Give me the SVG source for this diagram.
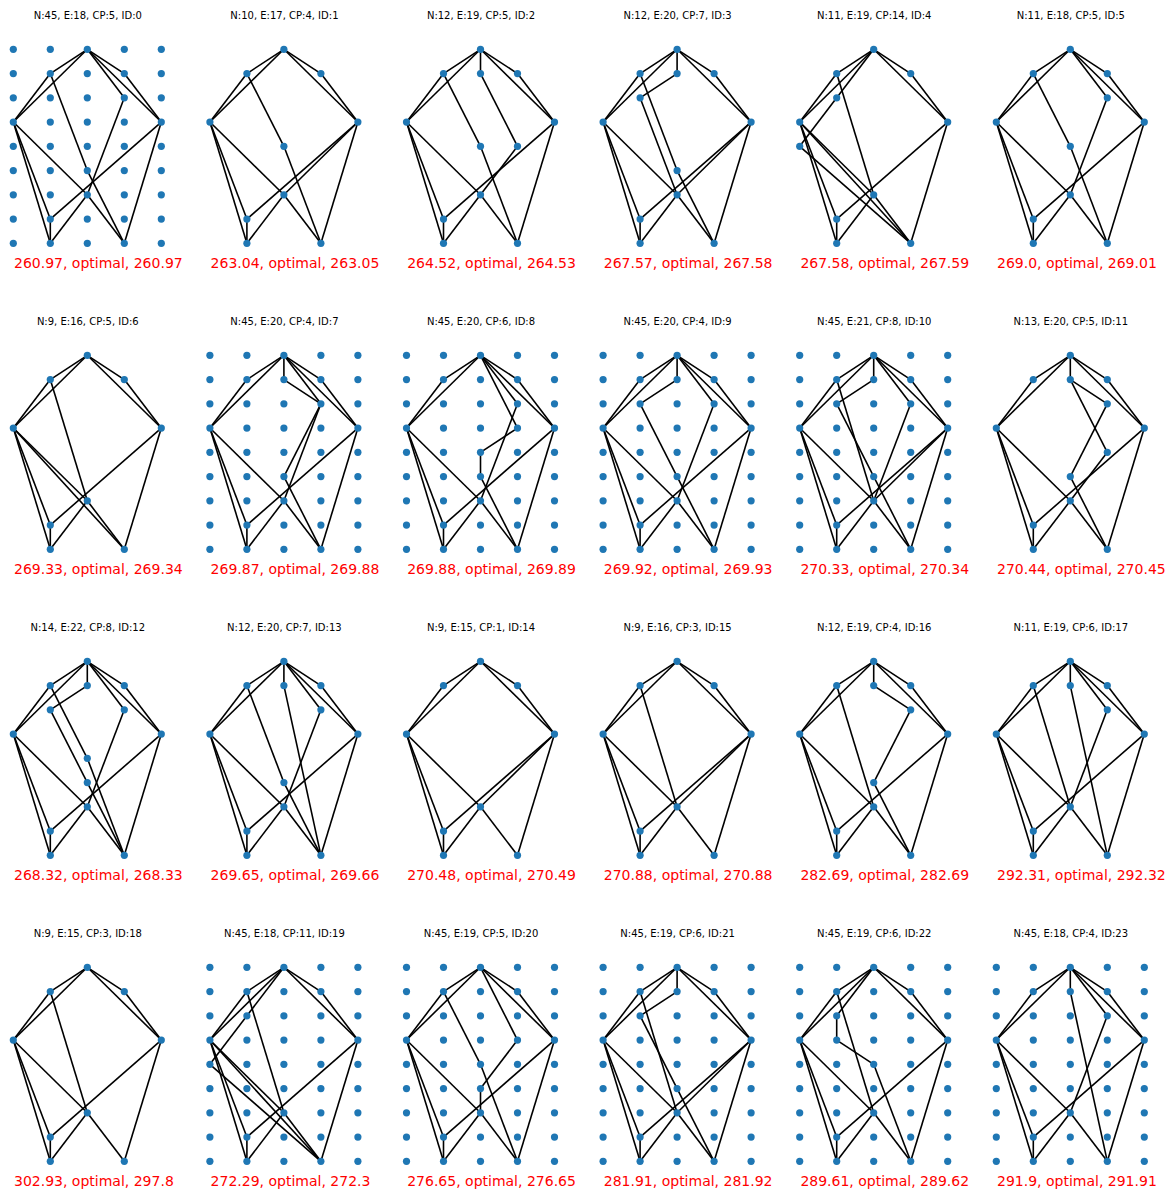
<svg xmlns="http://www.w3.org/2000/svg" width="1172" height="1191" viewBox="0 0 1172 1191">
<style>
.e path{fill:none;stroke:#000;stroke-width:1.6}
.n circle{fill:#1f77b4}
.t{font-family:"DejaVu Sans",sans-serif;font-size:10px;text-anchor:middle;fill:#000}
.s{font-family:"DejaVu Sans",sans-serif;font-size:14px;fill:#ff0000}
</style>
<rect width="1172" height="1191" fill="#fff"/>

<g id="panel0" transform="translate(13.3,49.3)">
<text class="t" x="74.5" y="-30.5">N:45, E:18, CP:5, ID:0</text>
<g id="p0-edges" class="e">
<path d="M74 0L37 24.25"/><path d="M74 0L0 72.75"/><path d="M74 0L111 24.25"/><path d="M74 0L148 72.75"/><path d="M37 24.25L0 72.75"/><path d="M111 24.25L148 72.75"/><path d="M0 72.75L74 145.5"/><path d="M0 72.75L37 169.75"/><path d="M0 72.75L37 194"/><path d="M148 72.75L37 169.75"/><path d="M148 72.75L111 194"/><path d="M74 145.5L37 194"/><path d="M74 145.5L111 194"/><path d="M37 169.75L37 194"/>
<path d="M74 0L111 48.5"/><path d="M111 48.5L74 145.5"/><path d="M37 24.25L74 121.25"/><path d="M74 121.25L111 194"/>
</g>
<g id="p0-nodes" class="n">
<g id="p0-0-0"><circle cx="0" cy="0" r="3.6"/></g><g id="p0-1-0"><circle cx="37" cy="0" r="3.6"/></g><g id="p0-2-0"><circle cx="74" cy="0" r="3.6"/></g><g id="p0-3-0"><circle cx="111" cy="0" r="3.6"/></g><g id="p0-4-0"><circle cx="148" cy="0" r="3.6"/></g>
<g id="p0-0-1"><circle cx="0" cy="24.25" r="3.6"/></g><g id="p0-1-1"><circle cx="37" cy="24.25" r="3.6"/></g><g id="p0-2-1"><circle cx="74" cy="24.25" r="3.6"/></g><g id="p0-3-1"><circle cx="111" cy="24.25" r="3.6"/></g><g id="p0-4-1"><circle cx="148" cy="24.25" r="3.6"/></g>
<g id="p0-0-2"><circle cx="0" cy="48.5" r="3.6"/></g><g id="p0-1-2"><circle cx="37" cy="48.5" r="3.6"/></g><g id="p0-2-2"><circle cx="74" cy="48.5" r="3.6"/></g><g id="p0-3-2"><circle cx="111" cy="48.5" r="3.6"/></g><g id="p0-4-2"><circle cx="148" cy="48.5" r="3.6"/></g>
<g id="p0-0-3"><circle cx="0" cy="72.75" r="3.6"/></g><g id="p0-1-3"><circle cx="37" cy="72.75" r="3.6"/></g><g id="p0-2-3"><circle cx="74" cy="72.75" r="3.6"/></g><g id="p0-3-3"><circle cx="111" cy="72.75" r="3.6"/></g><g id="p0-4-3"><circle cx="148" cy="72.75" r="3.6"/></g>
<g id="p0-0-4"><circle cx="0" cy="97" r="3.6"/></g><g id="p0-1-4"><circle cx="37" cy="97" r="3.6"/></g><g id="p0-2-4"><circle cx="74" cy="97" r="3.6"/></g><g id="p0-3-4"><circle cx="111" cy="97" r="3.6"/></g><g id="p0-4-4"><circle cx="148" cy="97" r="3.6"/></g>
<g id="p0-0-5"><circle cx="0" cy="121.25" r="3.6"/></g><g id="p0-1-5"><circle cx="37" cy="121.25" r="3.6"/></g><g id="p0-2-5"><circle cx="74" cy="121.25" r="3.6"/></g><g id="p0-3-5"><circle cx="111" cy="121.25" r="3.6"/></g><g id="p0-4-5"><circle cx="148" cy="121.25" r="3.6"/></g>
<g id="p0-0-6"><circle cx="0" cy="145.5" r="3.6"/></g><g id="p0-1-6"><circle cx="37" cy="145.5" r="3.6"/></g><g id="p0-2-6"><circle cx="74" cy="145.5" r="3.6"/></g><g id="p0-3-6"><circle cx="111" cy="145.5" r="3.6"/></g><g id="p0-4-6"><circle cx="148" cy="145.5" r="3.6"/></g>
<g id="p0-0-7"><circle cx="0" cy="169.75" r="3.6"/></g><g id="p0-1-7"><circle cx="37" cy="169.75" r="3.6"/></g><g id="p0-2-7"><circle cx="74" cy="169.75" r="3.6"/></g><g id="p0-3-7"><circle cx="111" cy="169.75" r="3.6"/></g><g id="p0-4-7"><circle cx="148" cy="169.75" r="3.6"/></g>
<g id="p0-0-8"><circle cx="0" cy="194" r="3.6"/></g><g id="p0-1-8"><circle cx="37" cy="194" r="3.6"/></g><g id="p0-2-8"><circle cx="74" cy="194" r="3.6"/></g><g id="p0-3-8"><circle cx="111" cy="194" r="3.6"/></g><g id="p0-4-8"><circle cx="148" cy="194" r="3.6"/></g>
</g>
<text class="s" x="0.7" y="219">260.97, optimal, 260.97</text>
</g>

<g id="panel1" transform="translate(209.9,49.3)">
<text class="t" x="74.5" y="-30.5">N:10, E:17, CP:4, ID:1</text>
<g id="p1-edges" class="e">
<path d="M74 0L37 24.25"/><path d="M74 0L0 72.75"/><path d="M74 0L111 24.25"/><path d="M74 0L148 72.75"/><path d="M37 24.25L0 72.75"/><path d="M111 24.25L148 72.75"/><path d="M0 72.75L74 145.5"/><path d="M0 72.75L37 169.75"/><path d="M0 72.75L37 194"/><path d="M148 72.75L37 169.75"/><path d="M148 72.75L111 194"/><path d="M74 145.5L37 194"/><path d="M74 145.5L111 194"/><path d="M37 169.75L37 194"/>
<path d="M37 24.25L74 97"/><path d="M74 97L111 194"/><path d="M148 72.75L74 145.5"/>
</g>
<g id="p1-nodes" class="n">
<g id="p1-2-0"><circle cx="74" cy="0" r="3.6"/></g><g id="p1-1-1"><circle cx="37" cy="24.25" r="3.6"/></g><g id="p1-3-1"><circle cx="111" cy="24.25" r="3.6"/></g><g id="p1-0-3"><circle cx="0" cy="72.75" r="3.6"/></g><g id="p1-4-3"><circle cx="148" cy="72.75" r="3.6"/></g><g id="p1-2-6"><circle cx="74" cy="145.5" r="3.6"/></g><g id="p1-1-7"><circle cx="37" cy="169.75" r="3.6"/></g><g id="p1-1-8"><circle cx="37" cy="194" r="3.6"/></g><g id="p1-3-8"><circle cx="111" cy="194" r="3.6"/></g>
<g id="p1-2-4"><circle cx="74" cy="97" r="3.6"/></g>
</g>
<text class="s" x="0.7" y="219">263.04, optimal, 263.05</text>
</g>

<g id="panel2" transform="translate(406.5,49.3)">
<text class="t" x="74.5" y="-30.5">N:12, E:19, CP:5, ID:2</text>
<g id="p2-edges" class="e">
<path d="M74 0L37 24.25"/><path d="M74 0L0 72.75"/><path d="M74 0L111 24.25"/><path d="M74 0L148 72.75"/><path d="M37 24.25L0 72.75"/><path d="M111 24.25L148 72.75"/><path d="M0 72.75L74 145.5"/><path d="M0 72.75L37 169.75"/><path d="M0 72.75L37 194"/><path d="M148 72.75L37 169.75"/><path d="M148 72.75L111 194"/><path d="M74 145.5L37 194"/><path d="M74 145.5L111 194"/><path d="M37 169.75L37 194"/>
<path d="M74 0L74 24.25"/><path d="M74 24.25L111 97"/><path d="M111 97L74 145.5"/><path d="M37 24.25L74 97"/><path d="M74 97L111 194"/>
</g>
<g id="p2-nodes" class="n">
<g id="p2-2-0"><circle cx="74" cy="0" r="3.6"/></g><g id="p2-1-1"><circle cx="37" cy="24.25" r="3.6"/></g><g id="p2-3-1"><circle cx="111" cy="24.25" r="3.6"/></g><g id="p2-0-3"><circle cx="0" cy="72.75" r="3.6"/></g><g id="p2-4-3"><circle cx="148" cy="72.75" r="3.6"/></g><g id="p2-2-6"><circle cx="74" cy="145.5" r="3.6"/></g><g id="p2-1-7"><circle cx="37" cy="169.75" r="3.6"/></g><g id="p2-1-8"><circle cx="37" cy="194" r="3.6"/></g><g id="p2-3-8"><circle cx="111" cy="194" r="3.6"/></g>
<g id="p2-2-1"><circle cx="74" cy="24.25" r="3.6"/></g><g id="p2-3-4"><circle cx="111" cy="97" r="3.6"/></g><g id="p2-2-4"><circle cx="74" cy="97" r="3.6"/></g>
</g>
<text class="s" x="0.7" y="219">264.52, optimal, 264.53</text>
</g>

<g id="panel3" transform="translate(603.1,49.3)">
<text class="t" x="74.5" y="-30.5">N:12, E:20, CP:7, ID:3</text>
<g id="p3-edges" class="e">
<path d="M74 0L37 24.25"/><path d="M74 0L0 72.75"/><path d="M74 0L111 24.25"/><path d="M74 0L148 72.75"/><path d="M37 24.25L0 72.75"/><path d="M111 24.25L148 72.75"/><path d="M0 72.75L74 145.5"/><path d="M0 72.75L37 169.75"/><path d="M0 72.75L37 194"/><path d="M148 72.75L37 169.75"/><path d="M148 72.75L111 194"/><path d="M74 145.5L37 194"/><path d="M74 145.5L111 194"/><path d="M37 169.75L37 194"/>
<path d="M74 0L74 24.25"/><path d="M74 24.25L37 48.5"/><path d="M37 48.5L74 145.5"/><path d="M37 24.25L74 121.25"/><path d="M74 121.25L111 194"/><path d="M148 72.75L74 145.5"/>
</g>
<g id="p3-nodes" class="n">
<g id="p3-2-0"><circle cx="74" cy="0" r="3.6"/></g><g id="p3-1-1"><circle cx="37" cy="24.25" r="3.6"/></g><g id="p3-3-1"><circle cx="111" cy="24.25" r="3.6"/></g><g id="p3-0-3"><circle cx="0" cy="72.75" r="3.6"/></g><g id="p3-4-3"><circle cx="148" cy="72.75" r="3.6"/></g><g id="p3-2-6"><circle cx="74" cy="145.5" r="3.6"/></g><g id="p3-1-7"><circle cx="37" cy="169.75" r="3.6"/></g><g id="p3-1-8"><circle cx="37" cy="194" r="3.6"/></g><g id="p3-3-8"><circle cx="111" cy="194" r="3.6"/></g>
<g id="p3-2-1"><circle cx="74" cy="24.25" r="3.6"/></g><g id="p3-1-2"><circle cx="37" cy="48.5" r="3.6"/></g><g id="p3-2-5"><circle cx="74" cy="121.25" r="3.6"/></g>
</g>
<text class="s" x="0.7" y="219">267.57, optimal, 267.58</text>
</g>

<g id="panel4" transform="translate(799.7,49.3)">
<text class="t" x="74.5" y="-30.5">N:11, E:19, CP:14, ID:4</text>
<g id="p4-edges" class="e">
<path d="M74 0L37 24.25"/><path d="M74 0L0 72.75"/><path d="M74 0L111 24.25"/><path d="M74 0L148 72.75"/><path d="M37 24.25L0 72.75"/><path d="M111 24.25L148 72.75"/><path d="M0 72.75L74 145.5"/><path d="M0 72.75L37 169.75"/><path d="M0 72.75L37 194"/><path d="M148 72.75L37 169.75"/><path d="M148 72.75L111 194"/><path d="M74 145.5L37 194"/><path d="M74 145.5L111 194"/><path d="M37 169.75L37 194"/>
<path d="M74 0L37 48.5"/><path d="M37 48.5L0 97"/><path d="M0 97L111 194"/><path d="M37 24.25L74 145.5"/><path d="M0 72.75L111 194"/>
</g>
<g id="p4-nodes" class="n">
<g id="p4-2-0"><circle cx="74" cy="0" r="3.6"/></g><g id="p4-1-1"><circle cx="37" cy="24.25" r="3.6"/></g><g id="p4-3-1"><circle cx="111" cy="24.25" r="3.6"/></g><g id="p4-0-3"><circle cx="0" cy="72.75" r="3.6"/></g><g id="p4-4-3"><circle cx="148" cy="72.75" r="3.6"/></g><g id="p4-2-6"><circle cx="74" cy="145.5" r="3.6"/></g><g id="p4-1-7"><circle cx="37" cy="169.75" r="3.6"/></g><g id="p4-1-8"><circle cx="37" cy="194" r="3.6"/></g><g id="p4-3-8"><circle cx="111" cy="194" r="3.6"/></g>
<g id="p4-1-2"><circle cx="37" cy="48.5" r="3.6"/></g><g id="p4-0-4"><circle cx="0" cy="97" r="3.6"/></g>
</g>
<text class="s" x="0.7" y="219">267.58, optimal, 267.59</text>
</g>

<g id="panel5" transform="translate(996.3,49.3)">
<text class="t" x="74.5" y="-30.5">N:11, E:18, CP:5, ID:5</text>
<g id="p5-edges" class="e">
<path d="M74 0L37 24.25"/><path d="M74 0L0 72.75"/><path d="M74 0L111 24.25"/><path d="M74 0L148 72.75"/><path d="M37 24.25L0 72.75"/><path d="M111 24.25L148 72.75"/><path d="M0 72.75L74 145.5"/><path d="M0 72.75L37 169.75"/><path d="M0 72.75L37 194"/><path d="M148 72.75L37 169.75"/><path d="M148 72.75L111 194"/><path d="M74 145.5L37 194"/><path d="M74 145.5L111 194"/><path d="M37 169.75L37 194"/>
<path d="M74 0L111 48.5"/><path d="M111 48.5L74 145.5"/><path d="M37 24.25L74 97"/><path d="M74 97L111 194"/>
</g>
<g id="p5-nodes" class="n">
<g id="p5-2-0"><circle cx="74" cy="0" r="3.6"/></g><g id="p5-1-1"><circle cx="37" cy="24.25" r="3.6"/></g><g id="p5-3-1"><circle cx="111" cy="24.25" r="3.6"/></g><g id="p5-0-3"><circle cx="0" cy="72.75" r="3.6"/></g><g id="p5-4-3"><circle cx="148" cy="72.75" r="3.6"/></g><g id="p5-2-6"><circle cx="74" cy="145.5" r="3.6"/></g><g id="p5-1-7"><circle cx="37" cy="169.75" r="3.6"/></g><g id="p5-1-8"><circle cx="37" cy="194" r="3.6"/></g><g id="p5-3-8"><circle cx="111" cy="194" r="3.6"/></g>
<g id="p5-3-2"><circle cx="111" cy="48.5" r="3.6"/></g><g id="p5-2-4"><circle cx="74" cy="97" r="3.6"/></g>
</g>
<text class="s" x="0.7" y="219">269.0, optimal, 269.01</text>
</g>

<g id="panel6" transform="translate(13.3,355.3)">
<text class="t" x="74.5" y="-30.5">N:9, E:16, CP:5, ID:6</text>
<g id="p6-edges" class="e">
<path d="M74 0L37 24.25"/><path d="M74 0L0 72.75"/><path d="M74 0L111 24.25"/><path d="M74 0L148 72.75"/><path d="M37 24.25L0 72.75"/><path d="M111 24.25L148 72.75"/><path d="M0 72.75L74 145.5"/><path d="M0 72.75L37 169.75"/><path d="M0 72.75L37 194"/><path d="M148 72.75L37 169.75"/><path d="M148 72.75L111 194"/><path d="M74 145.5L37 194"/><path d="M74 145.5L111 194"/><path d="M37 169.75L37 194"/>
<path d="M37 24.25L74 145.5"/><path d="M0 72.75L111 194"/>
</g>
<g id="p6-nodes" class="n">
<g id="p6-2-0"><circle cx="74" cy="0" r="3.6"/></g><g id="p6-1-1"><circle cx="37" cy="24.25" r="3.6"/></g><g id="p6-3-1"><circle cx="111" cy="24.25" r="3.6"/></g><g id="p6-0-3"><circle cx="0" cy="72.75" r="3.6"/></g><g id="p6-4-3"><circle cx="148" cy="72.75" r="3.6"/></g><g id="p6-2-6"><circle cx="74" cy="145.5" r="3.6"/></g><g id="p6-1-7"><circle cx="37" cy="169.75" r="3.6"/></g><g id="p6-1-8"><circle cx="37" cy="194" r="3.6"/></g><g id="p6-3-8"><circle cx="111" cy="194" r="3.6"/></g>
</g>
<text class="s" x="0.7" y="219">269.33, optimal, 269.34</text>
</g>

<g id="panel7" transform="translate(209.9,355.3)">
<text class="t" x="74.5" y="-30.5">N:45, E:20, CP:4, ID:7</text>
<g id="p7-edges" class="e">
<path d="M74 0L37 24.25"/><path d="M74 0L0 72.75"/><path d="M74 0L111 24.25"/><path d="M74 0L148 72.75"/><path d="M37 24.25L0 72.75"/><path d="M111 24.25L148 72.75"/><path d="M0 72.75L74 145.5"/><path d="M0 72.75L37 169.75"/><path d="M0 72.75L37 194"/><path d="M148 72.75L37 169.75"/><path d="M148 72.75L111 194"/><path d="M74 145.5L37 194"/><path d="M74 145.5L111 194"/><path d="M37 169.75L37 194"/>
<path d="M74 0L74 24.25"/><path d="M74 0L111 48.5"/><path d="M74 24.25L111 48.5"/><path d="M111 48.5L74 121.25"/><path d="M74 121.25L111 194"/><path d="M111 48.5L74 145.5"/>
</g>
<g id="p7-nodes" class="n">
<g id="p7-0-0"><circle cx="0" cy="0" r="3.6"/></g><g id="p7-1-0"><circle cx="37" cy="0" r="3.6"/></g><g id="p7-2-0"><circle cx="74" cy="0" r="3.6"/></g><g id="p7-3-0"><circle cx="111" cy="0" r="3.6"/></g><g id="p7-4-0"><circle cx="148" cy="0" r="3.6"/></g>
<g id="p7-0-1"><circle cx="0" cy="24.25" r="3.6"/></g><g id="p7-1-1"><circle cx="37" cy="24.25" r="3.6"/></g><g id="p7-2-1"><circle cx="74" cy="24.25" r="3.6"/></g><g id="p7-3-1"><circle cx="111" cy="24.25" r="3.6"/></g><g id="p7-4-1"><circle cx="148" cy="24.25" r="3.6"/></g>
<g id="p7-0-2"><circle cx="0" cy="48.5" r="3.6"/></g><g id="p7-1-2"><circle cx="37" cy="48.5" r="3.6"/></g><g id="p7-2-2"><circle cx="74" cy="48.5" r="3.6"/></g><g id="p7-3-2"><circle cx="111" cy="48.5" r="3.6"/></g><g id="p7-4-2"><circle cx="148" cy="48.5" r="3.6"/></g>
<g id="p7-0-3"><circle cx="0" cy="72.75" r="3.6"/></g><g id="p7-1-3"><circle cx="37" cy="72.75" r="3.6"/></g><g id="p7-2-3"><circle cx="74" cy="72.75" r="3.6"/></g><g id="p7-3-3"><circle cx="111" cy="72.75" r="3.6"/></g><g id="p7-4-3"><circle cx="148" cy="72.75" r="3.6"/></g>
<g id="p7-0-4"><circle cx="0" cy="97" r="3.6"/></g><g id="p7-1-4"><circle cx="37" cy="97" r="3.6"/></g><g id="p7-2-4"><circle cx="74" cy="97" r="3.6"/></g><g id="p7-3-4"><circle cx="111" cy="97" r="3.6"/></g><g id="p7-4-4"><circle cx="148" cy="97" r="3.6"/></g>
<g id="p7-0-5"><circle cx="0" cy="121.25" r="3.6"/></g><g id="p7-1-5"><circle cx="37" cy="121.25" r="3.6"/></g><g id="p7-2-5"><circle cx="74" cy="121.25" r="3.6"/></g><g id="p7-3-5"><circle cx="111" cy="121.25" r="3.6"/></g><g id="p7-4-5"><circle cx="148" cy="121.25" r="3.6"/></g>
<g id="p7-0-6"><circle cx="0" cy="145.5" r="3.6"/></g><g id="p7-1-6"><circle cx="37" cy="145.5" r="3.6"/></g><g id="p7-2-6"><circle cx="74" cy="145.5" r="3.6"/></g><g id="p7-3-6"><circle cx="111" cy="145.5" r="3.6"/></g><g id="p7-4-6"><circle cx="148" cy="145.5" r="3.6"/></g>
<g id="p7-0-7"><circle cx="0" cy="169.75" r="3.6"/></g><g id="p7-1-7"><circle cx="37" cy="169.75" r="3.6"/></g><g id="p7-2-7"><circle cx="74" cy="169.75" r="3.6"/></g><g id="p7-3-7"><circle cx="111" cy="169.75" r="3.6"/></g><g id="p7-4-7"><circle cx="148" cy="169.75" r="3.6"/></g>
<g id="p7-0-8"><circle cx="0" cy="194" r="3.6"/></g><g id="p7-1-8"><circle cx="37" cy="194" r="3.6"/></g><g id="p7-2-8"><circle cx="74" cy="194" r="3.6"/></g><g id="p7-3-8"><circle cx="111" cy="194" r="3.6"/></g><g id="p7-4-8"><circle cx="148" cy="194" r="3.6"/></g>
</g>
<text class="s" x="0.7" y="219">269.87, optimal, 269.88</text>
</g>

<g id="panel8" transform="translate(406.5,355.3)">
<text class="t" x="74.5" y="-30.5">N:45, E:20, CP:6, ID:8</text>
<g id="p8-edges" class="e">
<path d="M74 0L37 24.25"/><path d="M74 0L0 72.75"/><path d="M74 0L111 24.25"/><path d="M74 0L148 72.75"/><path d="M37 24.25L0 72.75"/><path d="M111 24.25L148 72.75"/><path d="M0 72.75L74 145.5"/><path d="M0 72.75L37 169.75"/><path d="M0 72.75L37 194"/><path d="M148 72.75L37 169.75"/><path d="M148 72.75L111 194"/><path d="M74 145.5L37 194"/><path d="M74 145.5L111 194"/><path d="M37 169.75L37 194"/>
<path d="M74 0L111 48.5"/><path d="M111 48.5L74 145.5"/><path d="M74 0L111 72.75"/><path d="M111 72.75L74 97"/><path d="M74 97L74 121.25"/><path d="M74 121.25L111 194"/>
</g>
<g id="p8-nodes" class="n">
<g id="p8-0-0"><circle cx="0" cy="0" r="3.6"/></g><g id="p8-1-0"><circle cx="37" cy="0" r="3.6"/></g><g id="p8-2-0"><circle cx="74" cy="0" r="3.6"/></g><g id="p8-3-0"><circle cx="111" cy="0" r="3.6"/></g><g id="p8-4-0"><circle cx="148" cy="0" r="3.6"/></g>
<g id="p8-0-1"><circle cx="0" cy="24.25" r="3.6"/></g><g id="p8-1-1"><circle cx="37" cy="24.25" r="3.6"/></g><g id="p8-2-1"><circle cx="74" cy="24.25" r="3.6"/></g><g id="p8-3-1"><circle cx="111" cy="24.25" r="3.6"/></g><g id="p8-4-1"><circle cx="148" cy="24.25" r="3.6"/></g>
<g id="p8-0-2"><circle cx="0" cy="48.5" r="3.6"/></g><g id="p8-1-2"><circle cx="37" cy="48.5" r="3.6"/></g><g id="p8-2-2"><circle cx="74" cy="48.5" r="3.6"/></g><g id="p8-3-2"><circle cx="111" cy="48.5" r="3.6"/></g><g id="p8-4-2"><circle cx="148" cy="48.5" r="3.6"/></g>
<g id="p8-0-3"><circle cx="0" cy="72.75" r="3.6"/></g><g id="p8-1-3"><circle cx="37" cy="72.75" r="3.6"/></g><g id="p8-2-3"><circle cx="74" cy="72.75" r="3.6"/></g><g id="p8-3-3"><circle cx="111" cy="72.75" r="3.6"/></g><g id="p8-4-3"><circle cx="148" cy="72.75" r="3.6"/></g>
<g id="p8-0-4"><circle cx="0" cy="97" r="3.6"/></g><g id="p8-1-4"><circle cx="37" cy="97" r="3.6"/></g><g id="p8-2-4"><circle cx="74" cy="97" r="3.6"/></g><g id="p8-3-4"><circle cx="111" cy="97" r="3.6"/></g><g id="p8-4-4"><circle cx="148" cy="97" r="3.6"/></g>
<g id="p8-0-5"><circle cx="0" cy="121.25" r="3.6"/></g><g id="p8-1-5"><circle cx="37" cy="121.25" r="3.6"/></g><g id="p8-2-5"><circle cx="74" cy="121.25" r="3.6"/></g><g id="p8-3-5"><circle cx="111" cy="121.25" r="3.6"/></g><g id="p8-4-5"><circle cx="148" cy="121.25" r="3.6"/></g>
<g id="p8-0-6"><circle cx="0" cy="145.5" r="3.6"/></g><g id="p8-1-6"><circle cx="37" cy="145.5" r="3.6"/></g><g id="p8-2-6"><circle cx="74" cy="145.5" r="3.6"/></g><g id="p8-3-6"><circle cx="111" cy="145.5" r="3.6"/></g><g id="p8-4-6"><circle cx="148" cy="145.5" r="3.6"/></g>
<g id="p8-0-7"><circle cx="0" cy="169.75" r="3.6"/></g><g id="p8-1-7"><circle cx="37" cy="169.75" r="3.6"/></g><g id="p8-2-7"><circle cx="74" cy="169.75" r="3.6"/></g><g id="p8-3-7"><circle cx="111" cy="169.75" r="3.6"/></g><g id="p8-4-7"><circle cx="148" cy="169.75" r="3.6"/></g>
<g id="p8-0-8"><circle cx="0" cy="194" r="3.6"/></g><g id="p8-1-8"><circle cx="37" cy="194" r="3.6"/></g><g id="p8-2-8"><circle cx="74" cy="194" r="3.6"/></g><g id="p8-3-8"><circle cx="111" cy="194" r="3.6"/></g><g id="p8-4-8"><circle cx="148" cy="194" r="3.6"/></g>
</g>
<text class="s" x="0.7" y="219">269.88, optimal, 269.89</text>
</g>

<g id="panel9" transform="translate(603.1,355.3)">
<text class="t" x="74.5" y="-30.5">N:45, E:20, CP:4, ID:9</text>
<g id="p9-edges" class="e">
<path d="M74 0L37 24.25"/><path d="M74 0L0 72.75"/><path d="M74 0L111 24.25"/><path d="M74 0L148 72.75"/><path d="M37 24.25L0 72.75"/><path d="M111 24.25L148 72.75"/><path d="M0 72.75L74 145.5"/><path d="M0 72.75L37 169.75"/><path d="M0 72.75L37 194"/><path d="M148 72.75L37 169.75"/><path d="M148 72.75L111 194"/><path d="M74 145.5L37 194"/><path d="M74 145.5L111 194"/><path d="M37 169.75L37 194"/>
<path d="M74 0L74 24.25"/><path d="M74 24.25L37 48.5"/><path d="M37 48.5L74 121.25"/><path d="M74 121.25L111 194"/><path d="M74 0L111 48.5"/><path d="M111 48.5L74 145.5"/>
</g>
<g id="p9-nodes" class="n">
<g id="p9-0-0"><circle cx="0" cy="0" r="3.6"/></g><g id="p9-1-0"><circle cx="37" cy="0" r="3.6"/></g><g id="p9-2-0"><circle cx="74" cy="0" r="3.6"/></g><g id="p9-3-0"><circle cx="111" cy="0" r="3.6"/></g><g id="p9-4-0"><circle cx="148" cy="0" r="3.6"/></g>
<g id="p9-0-1"><circle cx="0" cy="24.25" r="3.6"/></g><g id="p9-1-1"><circle cx="37" cy="24.25" r="3.6"/></g><g id="p9-2-1"><circle cx="74" cy="24.25" r="3.6"/></g><g id="p9-3-1"><circle cx="111" cy="24.25" r="3.6"/></g><g id="p9-4-1"><circle cx="148" cy="24.25" r="3.6"/></g>
<g id="p9-0-2"><circle cx="0" cy="48.5" r="3.6"/></g><g id="p9-1-2"><circle cx="37" cy="48.5" r="3.6"/></g><g id="p9-2-2"><circle cx="74" cy="48.5" r="3.6"/></g><g id="p9-3-2"><circle cx="111" cy="48.5" r="3.6"/></g><g id="p9-4-2"><circle cx="148" cy="48.5" r="3.6"/></g>
<g id="p9-0-3"><circle cx="0" cy="72.75" r="3.6"/></g><g id="p9-1-3"><circle cx="37" cy="72.75" r="3.6"/></g><g id="p9-2-3"><circle cx="74" cy="72.75" r="3.6"/></g><g id="p9-3-3"><circle cx="111" cy="72.75" r="3.6"/></g><g id="p9-4-3"><circle cx="148" cy="72.75" r="3.6"/></g>
<g id="p9-0-4"><circle cx="0" cy="97" r="3.6"/></g><g id="p9-1-4"><circle cx="37" cy="97" r="3.6"/></g><g id="p9-2-4"><circle cx="74" cy="97" r="3.6"/></g><g id="p9-3-4"><circle cx="111" cy="97" r="3.6"/></g><g id="p9-4-4"><circle cx="148" cy="97" r="3.6"/></g>
<g id="p9-0-5"><circle cx="0" cy="121.25" r="3.6"/></g><g id="p9-1-5"><circle cx="37" cy="121.25" r="3.6"/></g><g id="p9-2-5"><circle cx="74" cy="121.25" r="3.6"/></g><g id="p9-3-5"><circle cx="111" cy="121.25" r="3.6"/></g><g id="p9-4-5"><circle cx="148" cy="121.25" r="3.6"/></g>
<g id="p9-0-6"><circle cx="0" cy="145.5" r="3.6"/></g><g id="p9-1-6"><circle cx="37" cy="145.5" r="3.6"/></g><g id="p9-2-6"><circle cx="74" cy="145.5" r="3.6"/></g><g id="p9-3-6"><circle cx="111" cy="145.5" r="3.6"/></g><g id="p9-4-6"><circle cx="148" cy="145.5" r="3.6"/></g>
<g id="p9-0-7"><circle cx="0" cy="169.75" r="3.6"/></g><g id="p9-1-7"><circle cx="37" cy="169.75" r="3.6"/></g><g id="p9-2-7"><circle cx="74" cy="169.75" r="3.6"/></g><g id="p9-3-7"><circle cx="111" cy="169.75" r="3.6"/></g><g id="p9-4-7"><circle cx="148" cy="169.75" r="3.6"/></g>
<g id="p9-0-8"><circle cx="0" cy="194" r="3.6"/></g><g id="p9-1-8"><circle cx="37" cy="194" r="3.6"/></g><g id="p9-2-8"><circle cx="74" cy="194" r="3.6"/></g><g id="p9-3-8"><circle cx="111" cy="194" r="3.6"/></g><g id="p9-4-8"><circle cx="148" cy="194" r="3.6"/></g>
</g>
<text class="s" x="0.7" y="219">269.92, optimal, 269.93</text>
</g>

<g id="panel10" transform="translate(799.7,355.3)">
<text class="t" x="74.5" y="-30.5">N:45, E:21, CP:8, ID:10</text>
<g id="p10-edges" class="e">
<path d="M74 0L37 24.25"/><path d="M74 0L0 72.75"/><path d="M74 0L111 24.25"/><path d="M74 0L148 72.75"/><path d="M37 24.25L0 72.75"/><path d="M111 24.25L148 72.75"/><path d="M0 72.75L74 145.5"/><path d="M0 72.75L37 169.75"/><path d="M0 72.75L37 194"/><path d="M148 72.75L37 169.75"/><path d="M148 72.75L111 194"/><path d="M74 145.5L37 194"/><path d="M74 145.5L111 194"/><path d="M37 169.75L37 194"/>
<path d="M74 0L74 24.25"/><path d="M74 24.25L37 48.5"/><path d="M74 0L111 48.5"/><path d="M111 48.5L74 145.5"/><path d="M37 48.5L111 194"/><path d="M37 24.25L74 145.5"/><path d="M148 72.75L74 145.5"/>
</g>
<g id="p10-nodes" class="n">
<g id="p10-0-0"><circle cx="0" cy="0" r="3.6"/></g><g id="p10-1-0"><circle cx="37" cy="0" r="3.6"/></g><g id="p10-2-0"><circle cx="74" cy="0" r="3.6"/></g><g id="p10-3-0"><circle cx="111" cy="0" r="3.6"/></g><g id="p10-4-0"><circle cx="148" cy="0" r="3.6"/></g>
<g id="p10-0-1"><circle cx="0" cy="24.25" r="3.6"/></g><g id="p10-1-1"><circle cx="37" cy="24.25" r="3.6"/></g><g id="p10-2-1"><circle cx="74" cy="24.25" r="3.6"/></g><g id="p10-3-1"><circle cx="111" cy="24.25" r="3.6"/></g><g id="p10-4-1"><circle cx="148" cy="24.25" r="3.6"/></g>
<g id="p10-0-2"><circle cx="0" cy="48.5" r="3.6"/></g><g id="p10-1-2"><circle cx="37" cy="48.5" r="3.6"/></g><g id="p10-2-2"><circle cx="74" cy="48.5" r="3.6"/></g><g id="p10-3-2"><circle cx="111" cy="48.5" r="3.6"/></g><g id="p10-4-2"><circle cx="148" cy="48.5" r="3.6"/></g>
<g id="p10-0-3"><circle cx="0" cy="72.75" r="3.6"/></g><g id="p10-1-3"><circle cx="37" cy="72.75" r="3.6"/></g><g id="p10-2-3"><circle cx="74" cy="72.75" r="3.6"/></g><g id="p10-3-3"><circle cx="111" cy="72.75" r="3.6"/></g><g id="p10-4-3"><circle cx="148" cy="72.75" r="3.6"/></g>
<g id="p10-0-4"><circle cx="0" cy="97" r="3.6"/></g><g id="p10-1-4"><circle cx="37" cy="97" r="3.6"/></g><g id="p10-2-4"><circle cx="74" cy="97" r="3.6"/></g><g id="p10-3-4"><circle cx="111" cy="97" r="3.6"/></g><g id="p10-4-4"><circle cx="148" cy="97" r="3.6"/></g>
<g id="p10-0-5"><circle cx="0" cy="121.25" r="3.6"/></g><g id="p10-1-5"><circle cx="37" cy="121.25" r="3.6"/></g><g id="p10-2-5"><circle cx="74" cy="121.25" r="3.6"/></g><g id="p10-3-5"><circle cx="111" cy="121.25" r="3.6"/></g><g id="p10-4-5"><circle cx="148" cy="121.25" r="3.6"/></g>
<g id="p10-0-6"><circle cx="0" cy="145.5" r="3.6"/></g><g id="p10-1-6"><circle cx="37" cy="145.5" r="3.6"/></g><g id="p10-2-6"><circle cx="74" cy="145.5" r="3.6"/></g><g id="p10-3-6"><circle cx="111" cy="145.5" r="3.6"/></g><g id="p10-4-6"><circle cx="148" cy="145.5" r="3.6"/></g>
<g id="p10-0-7"><circle cx="0" cy="169.75" r="3.6"/></g><g id="p10-1-7"><circle cx="37" cy="169.75" r="3.6"/></g><g id="p10-2-7"><circle cx="74" cy="169.75" r="3.6"/></g><g id="p10-3-7"><circle cx="111" cy="169.75" r="3.6"/></g><g id="p10-4-7"><circle cx="148" cy="169.75" r="3.6"/></g>
<g id="p10-0-8"><circle cx="0" cy="194" r="3.6"/></g><g id="p10-1-8"><circle cx="37" cy="194" r="3.6"/></g><g id="p10-2-8"><circle cx="74" cy="194" r="3.6"/></g><g id="p10-3-8"><circle cx="111" cy="194" r="3.6"/></g><g id="p10-4-8"><circle cx="148" cy="194" r="3.6"/></g>
</g>
<text class="s" x="0.7" y="219">270.33, optimal, 270.34</text>
</g>

<g id="panel11" transform="translate(996.3,355.3)">
<text class="t" x="74.5" y="-30.5">N:13, E:20, CP:5, ID:11</text>
<g id="p11-edges" class="e">
<path d="M74 0L37 24.25"/><path d="M74 0L0 72.75"/><path d="M74 0L111 24.25"/><path d="M74 0L148 72.75"/><path d="M37 24.25L0 72.75"/><path d="M111 24.25L148 72.75"/><path d="M0 72.75L74 145.5"/><path d="M0 72.75L37 169.75"/><path d="M0 72.75L37 194"/><path d="M148 72.75L37 169.75"/><path d="M148 72.75L111 194"/><path d="M74 145.5L37 194"/><path d="M74 145.5L111 194"/><path d="M37 169.75L37 194"/>
<path d="M74 0L74 24.25"/><path d="M74 24.25L111 48.5"/><path d="M74 24.25L111 97"/><path d="M111 48.5L74 121.25"/><path d="M74 121.25L111 194"/><path d="M111 97L74 145.5"/>
</g>
<g id="p11-nodes" class="n">
<g id="p11-2-0"><circle cx="74" cy="0" r="3.6"/></g><g id="p11-1-1"><circle cx="37" cy="24.25" r="3.6"/></g><g id="p11-3-1"><circle cx="111" cy="24.25" r="3.6"/></g><g id="p11-0-3"><circle cx="0" cy="72.75" r="3.6"/></g><g id="p11-4-3"><circle cx="148" cy="72.75" r="3.6"/></g><g id="p11-2-6"><circle cx="74" cy="145.5" r="3.6"/></g><g id="p11-1-7"><circle cx="37" cy="169.75" r="3.6"/></g><g id="p11-1-8"><circle cx="37" cy="194" r="3.6"/></g><g id="p11-3-8"><circle cx="111" cy="194" r="3.6"/></g>
<g id="p11-2-1"><circle cx="74" cy="24.25" r="3.6"/></g><g id="p11-3-2"><circle cx="111" cy="48.5" r="3.6"/></g><g id="p11-3-4"><circle cx="111" cy="97" r="3.6"/></g><g id="p11-2-5"><circle cx="74" cy="121.25" r="3.6"/></g>
</g>
<text class="s" x="0.7" y="219">270.44, optimal, 270.45</text>
</g>

<g id="panel12" transform="translate(13.3,661.3)">
<text class="t" x="74.5" y="-30.5">N:14, E:22, CP:8, ID:12</text>
<g id="p12-edges" class="e">
<path d="M74 0L37 24.25"/><path d="M74 0L0 72.75"/><path d="M74 0L111 24.25"/><path d="M74 0L148 72.75"/><path d="M37 24.25L0 72.75"/><path d="M111 24.25L148 72.75"/><path d="M0 72.75L74 145.5"/><path d="M0 72.75L37 169.75"/><path d="M0 72.75L37 194"/><path d="M148 72.75L37 169.75"/><path d="M148 72.75L111 194"/><path d="M74 145.5L37 194"/><path d="M74 145.5L111 194"/><path d="M37 169.75L37 194"/>
<path d="M74 0L74 24.25"/><path d="M74 0L111 48.5"/><path d="M74 24.25L37 48.5"/><path d="M37 24.25L74 97"/><path d="M74 97L111 194"/><path d="M37 48.5L74 121.25"/><path d="M74 121.25L111 194"/><path d="M111 48.5L74 145.5"/>
</g>
<g id="p12-nodes" class="n">
<g id="p12-2-0"><circle cx="74" cy="0" r="3.6"/></g><g id="p12-1-1"><circle cx="37" cy="24.25" r="3.6"/></g><g id="p12-3-1"><circle cx="111" cy="24.25" r="3.6"/></g><g id="p12-0-3"><circle cx="0" cy="72.75" r="3.6"/></g><g id="p12-4-3"><circle cx="148" cy="72.75" r="3.6"/></g><g id="p12-2-6"><circle cx="74" cy="145.5" r="3.6"/></g><g id="p12-1-7"><circle cx="37" cy="169.75" r="3.6"/></g><g id="p12-1-8"><circle cx="37" cy="194" r="3.6"/></g><g id="p12-3-8"><circle cx="111" cy="194" r="3.6"/></g>
<g id="p12-2-1"><circle cx="74" cy="24.25" r="3.6"/></g><g id="p12-3-2"><circle cx="111" cy="48.5" r="3.6"/></g><g id="p12-1-2"><circle cx="37" cy="48.5" r="3.6"/></g><g id="p12-2-4"><circle cx="74" cy="97" r="3.6"/></g><g id="p12-2-5"><circle cx="74" cy="121.25" r="3.6"/></g>
</g>
<text class="s" x="0.7" y="219">268.32, optimal, 268.33</text>
</g>

<g id="panel13" transform="translate(209.9,661.3)">
<text class="t" x="74.5" y="-30.5">N:12, E:20, CP:7, ID:13</text>
<g id="p13-edges" class="e">
<path d="M74 0L37 24.25"/><path d="M74 0L0 72.75"/><path d="M74 0L111 24.25"/><path d="M74 0L148 72.75"/><path d="M37 24.25L0 72.75"/><path d="M111 24.25L148 72.75"/><path d="M0 72.75L74 145.5"/><path d="M0 72.75L37 169.75"/><path d="M0 72.75L37 194"/><path d="M148 72.75L37 169.75"/><path d="M148 72.75L111 194"/><path d="M74 145.5L37 194"/><path d="M74 145.5L111 194"/><path d="M37 169.75L37 194"/>
<path d="M74 0L74 24.25"/><path d="M74 0L111 48.5"/><path d="M37 24.25L74 121.25"/><path d="M74 121.25L111 194"/><path d="M74 24.25L111 194"/><path d="M111 48.5L74 145.5"/>
</g>
<g id="p13-nodes" class="n">
<g id="p13-2-0"><circle cx="74" cy="0" r="3.6"/></g><g id="p13-1-1"><circle cx="37" cy="24.25" r="3.6"/></g><g id="p13-3-1"><circle cx="111" cy="24.25" r="3.6"/></g><g id="p13-0-3"><circle cx="0" cy="72.75" r="3.6"/></g><g id="p13-4-3"><circle cx="148" cy="72.75" r="3.6"/></g><g id="p13-2-6"><circle cx="74" cy="145.5" r="3.6"/></g><g id="p13-1-7"><circle cx="37" cy="169.75" r="3.6"/></g><g id="p13-1-8"><circle cx="37" cy="194" r="3.6"/></g><g id="p13-3-8"><circle cx="111" cy="194" r="3.6"/></g>
<g id="p13-2-1"><circle cx="74" cy="24.25" r="3.6"/></g><g id="p13-3-2"><circle cx="111" cy="48.5" r="3.6"/></g><g id="p13-2-5"><circle cx="74" cy="121.25" r="3.6"/></g>
</g>
<text class="s" x="0.7" y="219">269.65, optimal, 269.66</text>
</g>

<g id="panel14" transform="translate(406.5,661.3)">
<text class="t" x="74.5" y="-30.5">N:9, E:15, CP:1, ID:14</text>
<g id="p14-edges" class="e">
<path d="M74 0L37 24.25"/><path d="M74 0L0 72.75"/><path d="M74 0L111 24.25"/><path d="M74 0L148 72.75"/><path d="M37 24.25L0 72.75"/><path d="M111 24.25L148 72.75"/><path d="M0 72.75L74 145.5"/><path d="M0 72.75L37 169.75"/><path d="M0 72.75L37 194"/><path d="M148 72.75L37 169.75"/><path d="M148 72.75L111 194"/><path d="M74 145.5L37 194"/><path d="M74 145.5L111 194"/><path d="M37 169.75L37 194"/>
<path d="M148 72.75L74 145.5"/>
</g>
<g id="p14-nodes" class="n">
<g id="p14-2-0"><circle cx="74" cy="0" r="3.6"/></g><g id="p14-1-1"><circle cx="37" cy="24.25" r="3.6"/></g><g id="p14-3-1"><circle cx="111" cy="24.25" r="3.6"/></g><g id="p14-0-3"><circle cx="0" cy="72.75" r="3.6"/></g><g id="p14-4-3"><circle cx="148" cy="72.75" r="3.6"/></g><g id="p14-2-6"><circle cx="74" cy="145.5" r="3.6"/></g><g id="p14-1-7"><circle cx="37" cy="169.75" r="3.6"/></g><g id="p14-1-8"><circle cx="37" cy="194" r="3.6"/></g><g id="p14-3-8"><circle cx="111" cy="194" r="3.6"/></g>
</g>
<text class="s" x="0.7" y="219">270.48, optimal, 270.49</text>
</g>

<g id="panel15" transform="translate(603.1,661.3)">
<text class="t" x="74.5" y="-30.5">N:9, E:16, CP:3, ID:15</text>
<g id="p15-edges" class="e">
<path d="M74 0L37 24.25"/><path d="M74 0L0 72.75"/><path d="M74 0L111 24.25"/><path d="M74 0L148 72.75"/><path d="M37 24.25L0 72.75"/><path d="M111 24.25L148 72.75"/><path d="M0 72.75L74 145.5"/><path d="M0 72.75L37 169.75"/><path d="M0 72.75L37 194"/><path d="M148 72.75L37 169.75"/><path d="M148 72.75L111 194"/><path d="M74 145.5L37 194"/><path d="M74 145.5L111 194"/><path d="M37 169.75L37 194"/>
<path d="M37 24.25L74 145.5"/><path d="M148 72.75L74 145.5"/>
</g>
<g id="p15-nodes" class="n">
<g id="p15-2-0"><circle cx="74" cy="0" r="3.6"/></g><g id="p15-1-1"><circle cx="37" cy="24.25" r="3.6"/></g><g id="p15-3-1"><circle cx="111" cy="24.25" r="3.6"/></g><g id="p15-0-3"><circle cx="0" cy="72.75" r="3.6"/></g><g id="p15-4-3"><circle cx="148" cy="72.75" r="3.6"/></g><g id="p15-2-6"><circle cx="74" cy="145.5" r="3.6"/></g><g id="p15-1-7"><circle cx="37" cy="169.75" r="3.6"/></g><g id="p15-1-8"><circle cx="37" cy="194" r="3.6"/></g><g id="p15-3-8"><circle cx="111" cy="194" r="3.6"/></g>
</g>
<text class="s" x="0.7" y="219">270.88, optimal, 270.88</text>
</g>

<g id="panel16" transform="translate(799.7,661.3)">
<text class="t" x="74.5" y="-30.5">N:12, E:19, CP:4, ID:16</text>
<g id="p16-edges" class="e">
<path d="M74 0L37 24.25"/><path d="M74 0L0 72.75"/><path d="M74 0L111 24.25"/><path d="M74 0L148 72.75"/><path d="M37 24.25L0 72.75"/><path d="M111 24.25L148 72.75"/><path d="M0 72.75L74 145.5"/><path d="M0 72.75L37 169.75"/><path d="M0 72.75L37 194"/><path d="M148 72.75L37 169.75"/><path d="M148 72.75L111 194"/><path d="M74 145.5L37 194"/><path d="M74 145.5L111 194"/><path d="M37 169.75L37 194"/>
<path d="M74 0L74 24.25"/><path d="M74 24.25L111 48.5"/><path d="M111 48.5L74 121.25"/><path d="M74 121.25L111 194"/><path d="M37 24.25L74 145.5"/>
</g>
<g id="p16-nodes" class="n">
<g id="p16-2-0"><circle cx="74" cy="0" r="3.6"/></g><g id="p16-1-1"><circle cx="37" cy="24.25" r="3.6"/></g><g id="p16-3-1"><circle cx="111" cy="24.25" r="3.6"/></g><g id="p16-0-3"><circle cx="0" cy="72.75" r="3.6"/></g><g id="p16-4-3"><circle cx="148" cy="72.75" r="3.6"/></g><g id="p16-2-6"><circle cx="74" cy="145.5" r="3.6"/></g><g id="p16-1-7"><circle cx="37" cy="169.75" r="3.6"/></g><g id="p16-1-8"><circle cx="37" cy="194" r="3.6"/></g><g id="p16-3-8"><circle cx="111" cy="194" r="3.6"/></g>
<g id="p16-2-1"><circle cx="74" cy="24.25" r="3.6"/></g><g id="p16-3-2"><circle cx="111" cy="48.5" r="3.6"/></g><g id="p16-2-5"><circle cx="74" cy="121.25" r="3.6"/></g>
</g>
<text class="s" x="0.7" y="219">282.69, optimal, 282.69</text>
</g>

<g id="panel17" transform="translate(996.3,661.3)">
<text class="t" x="74.5" y="-30.5">N:11, E:19, CP:6, ID:17</text>
<g id="p17-edges" class="e">
<path d="M74 0L37 24.25"/><path d="M74 0L0 72.75"/><path d="M74 0L111 24.25"/><path d="M74 0L148 72.75"/><path d="M37 24.25L0 72.75"/><path d="M111 24.25L148 72.75"/><path d="M0 72.75L74 145.5"/><path d="M0 72.75L37 169.75"/><path d="M0 72.75L37 194"/><path d="M148 72.75L37 169.75"/><path d="M148 72.75L111 194"/><path d="M74 145.5L37 194"/><path d="M74 145.5L111 194"/><path d="M37 169.75L37 194"/>
<path d="M74 0L74 24.25"/><path d="M74 0L111 48.5"/><path d="M37 24.25L74 145.5"/><path d="M74 24.25L111 194"/><path d="M111 48.5L74 145.5"/>
</g>
<g id="p17-nodes" class="n">
<g id="p17-2-0"><circle cx="74" cy="0" r="3.6"/></g><g id="p17-1-1"><circle cx="37" cy="24.25" r="3.6"/></g><g id="p17-3-1"><circle cx="111" cy="24.25" r="3.6"/></g><g id="p17-0-3"><circle cx="0" cy="72.75" r="3.6"/></g><g id="p17-4-3"><circle cx="148" cy="72.75" r="3.6"/></g><g id="p17-2-6"><circle cx="74" cy="145.5" r="3.6"/></g><g id="p17-1-7"><circle cx="37" cy="169.75" r="3.6"/></g><g id="p17-1-8"><circle cx="37" cy="194" r="3.6"/></g><g id="p17-3-8"><circle cx="111" cy="194" r="3.6"/></g>
<g id="p17-2-1"><circle cx="74" cy="24.25" r="3.6"/></g><g id="p17-3-2"><circle cx="111" cy="48.5" r="3.6"/></g>
</g>
<text class="s" x="0.7" y="219">292.31, optimal, 292.32</text>
</g>

<g id="panel18" transform="translate(13.3,967.3)">
<text class="t" x="74.5" y="-30.5">N:9, E:15, CP:3, ID:18</text>
<g id="p18-edges" class="e">
<path d="M74 0L37 24.25"/><path d="M74 0L0 72.75"/><path d="M74 0L111 24.25"/><path d="M74 0L148 72.75"/><path d="M37 24.25L0 72.75"/><path d="M111 24.25L148 72.75"/><path d="M0 72.75L74 145.5"/><path d="M0 72.75L37 169.75"/><path d="M0 72.75L37 194"/><path d="M148 72.75L37 169.75"/><path d="M148 72.75L111 194"/><path d="M74 145.5L37 194"/><path d="M74 145.5L111 194"/><path d="M37 169.75L37 194"/>
<path d="M37 24.25L74 145.5"/>
</g>
<g id="p18-nodes" class="n">
<g id="p18-2-0"><circle cx="74" cy="0" r="3.6"/></g><g id="p18-1-1"><circle cx="37" cy="24.25" r="3.6"/></g><g id="p18-3-1"><circle cx="111" cy="24.25" r="3.6"/></g><g id="p18-0-3"><circle cx="0" cy="72.75" r="3.6"/></g><g id="p18-4-3"><circle cx="148" cy="72.75" r="3.6"/></g><g id="p18-2-6"><circle cx="74" cy="145.5" r="3.6"/></g><g id="p18-1-7"><circle cx="37" cy="169.75" r="3.6"/></g><g id="p18-1-8"><circle cx="37" cy="194" r="3.6"/></g><g id="p18-3-8"><circle cx="111" cy="194" r="3.6"/></g>
</g>
<text class="s" x="0.7" y="219">302.93, optimal, 297.8</text>
</g>

<g id="panel19" transform="translate(209.9,967.3)">
<text class="t" x="74.5" y="-30.5">N:45, E:18, CP:11, ID:19</text>
<g id="p19-edges" class="e">
<path d="M74 0L37 24.25"/><path d="M74 0L0 72.75"/><path d="M74 0L111 24.25"/><path d="M74 0L148 72.75"/><path d="M37 24.25L0 72.75"/><path d="M111 24.25L148 72.75"/><path d="M0 72.75L74 145.5"/><path d="M0 72.75L37 169.75"/><path d="M0 72.75L37 194"/><path d="M148 72.75L37 169.75"/><path d="M148 72.75L111 194"/><path d="M74 145.5L37 194"/><path d="M74 145.5L111 194"/><path d="M37 169.75L37 194"/>
<path d="M74 0L0 97"/><path d="M0 97L111 194"/><path d="M37 24.25L74 145.5"/><path d="M0 72.75L111 194"/>
</g>
<g id="p19-nodes" class="n">
<g id="p19-0-0"><circle cx="0" cy="0" r="3.6"/></g><g id="p19-1-0"><circle cx="37" cy="0" r="3.6"/></g><g id="p19-2-0"><circle cx="74" cy="0" r="3.6"/></g><g id="p19-3-0"><circle cx="111" cy="0" r="3.6"/></g><g id="p19-4-0"><circle cx="148" cy="0" r="3.6"/></g>
<g id="p19-0-1"><circle cx="0" cy="24.25" r="3.6"/></g><g id="p19-1-1"><circle cx="37" cy="24.25" r="3.6"/></g><g id="p19-2-1"><circle cx="74" cy="24.25" r="3.6"/></g><g id="p19-3-1"><circle cx="111" cy="24.25" r="3.6"/></g><g id="p19-4-1"><circle cx="148" cy="24.25" r="3.6"/></g>
<g id="p19-0-2"><circle cx="0" cy="48.5" r="3.6"/></g><g id="p19-1-2"><circle cx="37" cy="48.5" r="3.6"/></g><g id="p19-2-2"><circle cx="74" cy="48.5" r="3.6"/></g><g id="p19-3-2"><circle cx="111" cy="48.5" r="3.6"/></g><g id="p19-4-2"><circle cx="148" cy="48.5" r="3.6"/></g>
<g id="p19-0-3"><circle cx="0" cy="72.75" r="3.6"/></g><g id="p19-1-3"><circle cx="37" cy="72.75" r="3.6"/></g><g id="p19-2-3"><circle cx="74" cy="72.75" r="3.6"/></g><g id="p19-3-3"><circle cx="111" cy="72.75" r="3.6"/></g><g id="p19-4-3"><circle cx="148" cy="72.75" r="3.6"/></g>
<g id="p19-0-4"><circle cx="0" cy="97" r="3.6"/></g><g id="p19-1-4"><circle cx="37" cy="97" r="3.6"/></g><g id="p19-2-4"><circle cx="74" cy="97" r="3.6"/></g><g id="p19-3-4"><circle cx="111" cy="97" r="3.6"/></g><g id="p19-4-4"><circle cx="148" cy="97" r="3.6"/></g>
<g id="p19-0-5"><circle cx="0" cy="121.25" r="3.6"/></g><g id="p19-1-5"><circle cx="37" cy="121.25" r="3.6"/></g><g id="p19-2-5"><circle cx="74" cy="121.25" r="3.6"/></g><g id="p19-3-5"><circle cx="111" cy="121.25" r="3.6"/></g><g id="p19-4-5"><circle cx="148" cy="121.25" r="3.6"/></g>
<g id="p19-0-6"><circle cx="0" cy="145.5" r="3.6"/></g><g id="p19-1-6"><circle cx="37" cy="145.5" r="3.6"/></g><g id="p19-2-6"><circle cx="74" cy="145.5" r="3.6"/></g><g id="p19-3-6"><circle cx="111" cy="145.5" r="3.6"/></g><g id="p19-4-6"><circle cx="148" cy="145.5" r="3.6"/></g>
<g id="p19-0-7"><circle cx="0" cy="169.75" r="3.6"/></g><g id="p19-1-7"><circle cx="37" cy="169.75" r="3.6"/></g><g id="p19-2-7"><circle cx="74" cy="169.75" r="3.6"/></g><g id="p19-3-7"><circle cx="111" cy="169.75" r="3.6"/></g><g id="p19-4-7"><circle cx="148" cy="169.75" r="3.6"/></g>
<g id="p19-0-8"><circle cx="0" cy="194" r="3.6"/></g><g id="p19-1-8"><circle cx="37" cy="194" r="3.6"/></g><g id="p19-2-8"><circle cx="74" cy="194" r="3.6"/></g><g id="p19-3-8"><circle cx="111" cy="194" r="3.6"/></g><g id="p19-4-8"><circle cx="148" cy="194" r="3.6"/></g>
</g>
<text class="s" x="0.7" y="219">272.29, optimal, 272.3</text>
</g>

<g id="panel20" transform="translate(406.5,967.3)">
<text class="t" x="74.5" y="-30.5">N:45, E:19, CP:5, ID:20</text>
<g id="p20-edges" class="e">
<path d="M74 0L37 24.25"/><path d="M74 0L0 72.75"/><path d="M74 0L111 24.25"/><path d="M74 0L148 72.75"/><path d="M37 24.25L0 72.75"/><path d="M111 24.25L148 72.75"/><path d="M0 72.75L74 145.5"/><path d="M0 72.75L37 169.75"/><path d="M0 72.75L37 194"/><path d="M148 72.75L37 169.75"/><path d="M148 72.75L111 194"/><path d="M74 145.5L37 194"/><path d="M74 145.5L111 194"/><path d="M37 169.75L37 194"/>
<path d="M74 0L111 72.75"/><path d="M111 72.75L74 121.25"/><path d="M74 121.25L74 145.5"/><path d="M37 24.25L74 97"/><path d="M74 97L111 194"/>
</g>
<g id="p20-nodes" class="n">
<g id="p20-0-0"><circle cx="0" cy="0" r="3.6"/></g><g id="p20-1-0"><circle cx="37" cy="0" r="3.6"/></g><g id="p20-2-0"><circle cx="74" cy="0" r="3.6"/></g><g id="p20-3-0"><circle cx="111" cy="0" r="3.6"/></g><g id="p20-4-0"><circle cx="148" cy="0" r="3.6"/></g>
<g id="p20-0-1"><circle cx="0" cy="24.25" r="3.6"/></g><g id="p20-1-1"><circle cx="37" cy="24.25" r="3.6"/></g><g id="p20-2-1"><circle cx="74" cy="24.25" r="3.6"/></g><g id="p20-3-1"><circle cx="111" cy="24.25" r="3.6"/></g><g id="p20-4-1"><circle cx="148" cy="24.25" r="3.6"/></g>
<g id="p20-0-2"><circle cx="0" cy="48.5" r="3.6"/></g><g id="p20-1-2"><circle cx="37" cy="48.5" r="3.6"/></g><g id="p20-2-2"><circle cx="74" cy="48.5" r="3.6"/></g><g id="p20-3-2"><circle cx="111" cy="48.5" r="3.6"/></g><g id="p20-4-2"><circle cx="148" cy="48.5" r="3.6"/></g>
<g id="p20-0-3"><circle cx="0" cy="72.75" r="3.6"/></g><g id="p20-1-3"><circle cx="37" cy="72.75" r="3.6"/></g><g id="p20-2-3"><circle cx="74" cy="72.75" r="3.6"/></g><g id="p20-3-3"><circle cx="111" cy="72.75" r="3.6"/></g><g id="p20-4-3"><circle cx="148" cy="72.75" r="3.6"/></g>
<g id="p20-0-4"><circle cx="0" cy="97" r="3.6"/></g><g id="p20-1-4"><circle cx="37" cy="97" r="3.6"/></g><g id="p20-2-4"><circle cx="74" cy="97" r="3.6"/></g><g id="p20-3-4"><circle cx="111" cy="97" r="3.6"/></g><g id="p20-4-4"><circle cx="148" cy="97" r="3.6"/></g>
<g id="p20-0-5"><circle cx="0" cy="121.25" r="3.6"/></g><g id="p20-1-5"><circle cx="37" cy="121.25" r="3.6"/></g><g id="p20-2-5"><circle cx="74" cy="121.25" r="3.6"/></g><g id="p20-3-5"><circle cx="111" cy="121.25" r="3.6"/></g><g id="p20-4-5"><circle cx="148" cy="121.25" r="3.6"/></g>
<g id="p20-0-6"><circle cx="0" cy="145.5" r="3.6"/></g><g id="p20-1-6"><circle cx="37" cy="145.5" r="3.6"/></g><g id="p20-2-6"><circle cx="74" cy="145.5" r="3.6"/></g><g id="p20-3-6"><circle cx="111" cy="145.5" r="3.6"/></g><g id="p20-4-6"><circle cx="148" cy="145.5" r="3.6"/></g>
<g id="p20-0-7"><circle cx="0" cy="169.75" r="3.6"/></g><g id="p20-1-7"><circle cx="37" cy="169.75" r="3.6"/></g><g id="p20-2-7"><circle cx="74" cy="169.75" r="3.6"/></g><g id="p20-3-7"><circle cx="111" cy="169.75" r="3.6"/></g><g id="p20-4-7"><circle cx="148" cy="169.75" r="3.6"/></g>
<g id="p20-0-8"><circle cx="0" cy="194" r="3.6"/></g><g id="p20-1-8"><circle cx="37" cy="194" r="3.6"/></g><g id="p20-2-8"><circle cx="74" cy="194" r="3.6"/></g><g id="p20-3-8"><circle cx="111" cy="194" r="3.6"/></g><g id="p20-4-8"><circle cx="148" cy="194" r="3.6"/></g>
</g>
<text class="s" x="0.7" y="219">276.65, optimal, 276.65</text>
</g>

<g id="panel21" transform="translate(603.1,967.3)">
<text class="t" x="74.5" y="-30.5">N:45, E:19, CP:6, ID:21</text>
<g id="p21-edges" class="e">
<path d="M74 0L37 24.25"/><path d="M74 0L0 72.75"/><path d="M74 0L111 24.25"/><path d="M74 0L148 72.75"/><path d="M37 24.25L0 72.75"/><path d="M111 24.25L148 72.75"/><path d="M0 72.75L74 145.5"/><path d="M0 72.75L37 169.75"/><path d="M0 72.75L37 194"/><path d="M148 72.75L37 169.75"/><path d="M148 72.75L111 194"/><path d="M74 145.5L37 194"/><path d="M74 145.5L111 194"/><path d="M37 169.75L37 194"/>
<path d="M74 0L74 24.25"/><path d="M74 24.25L37 48.5"/><path d="M37 48.5L111 194"/><path d="M37 24.25L74 145.5"/><path d="M148 72.75L74 145.5"/>
</g>
<g id="p21-nodes" class="n">
<g id="p21-0-0"><circle cx="0" cy="0" r="3.6"/></g><g id="p21-1-0"><circle cx="37" cy="0" r="3.6"/></g><g id="p21-2-0"><circle cx="74" cy="0" r="3.6"/></g><g id="p21-3-0"><circle cx="111" cy="0" r="3.6"/></g><g id="p21-4-0"><circle cx="148" cy="0" r="3.6"/></g>
<g id="p21-0-1"><circle cx="0" cy="24.25" r="3.6"/></g><g id="p21-1-1"><circle cx="37" cy="24.25" r="3.6"/></g><g id="p21-2-1"><circle cx="74" cy="24.25" r="3.6"/></g><g id="p21-3-1"><circle cx="111" cy="24.25" r="3.6"/></g><g id="p21-4-1"><circle cx="148" cy="24.25" r="3.6"/></g>
<g id="p21-0-2"><circle cx="0" cy="48.5" r="3.6"/></g><g id="p21-1-2"><circle cx="37" cy="48.5" r="3.6"/></g><g id="p21-2-2"><circle cx="74" cy="48.5" r="3.6"/></g><g id="p21-3-2"><circle cx="111" cy="48.5" r="3.6"/></g><g id="p21-4-2"><circle cx="148" cy="48.5" r="3.6"/></g>
<g id="p21-0-3"><circle cx="0" cy="72.75" r="3.6"/></g><g id="p21-1-3"><circle cx="37" cy="72.75" r="3.6"/></g><g id="p21-2-3"><circle cx="74" cy="72.75" r="3.6"/></g><g id="p21-3-3"><circle cx="111" cy="72.75" r="3.6"/></g><g id="p21-4-3"><circle cx="148" cy="72.75" r="3.6"/></g>
<g id="p21-0-4"><circle cx="0" cy="97" r="3.6"/></g><g id="p21-1-4"><circle cx="37" cy="97" r="3.6"/></g><g id="p21-2-4"><circle cx="74" cy="97" r="3.6"/></g><g id="p21-3-4"><circle cx="111" cy="97" r="3.6"/></g><g id="p21-4-4"><circle cx="148" cy="97" r="3.6"/></g>
<g id="p21-0-5"><circle cx="0" cy="121.25" r="3.6"/></g><g id="p21-1-5"><circle cx="37" cy="121.25" r="3.6"/></g><g id="p21-2-5"><circle cx="74" cy="121.25" r="3.6"/></g><g id="p21-3-5"><circle cx="111" cy="121.25" r="3.6"/></g><g id="p21-4-5"><circle cx="148" cy="121.25" r="3.6"/></g>
<g id="p21-0-6"><circle cx="0" cy="145.5" r="3.6"/></g><g id="p21-1-6"><circle cx="37" cy="145.5" r="3.6"/></g><g id="p21-2-6"><circle cx="74" cy="145.5" r="3.6"/></g><g id="p21-3-6"><circle cx="111" cy="145.5" r="3.6"/></g><g id="p21-4-6"><circle cx="148" cy="145.5" r="3.6"/></g>
<g id="p21-0-7"><circle cx="0" cy="169.75" r="3.6"/></g><g id="p21-1-7"><circle cx="37" cy="169.75" r="3.6"/></g><g id="p21-2-7"><circle cx="74" cy="169.75" r="3.6"/></g><g id="p21-3-7"><circle cx="111" cy="169.75" r="3.6"/></g><g id="p21-4-7"><circle cx="148" cy="169.75" r="3.6"/></g>
<g id="p21-0-8"><circle cx="0" cy="194" r="3.6"/></g><g id="p21-1-8"><circle cx="37" cy="194" r="3.6"/></g><g id="p21-2-8"><circle cx="74" cy="194" r="3.6"/></g><g id="p21-3-8"><circle cx="111" cy="194" r="3.6"/></g><g id="p21-4-8"><circle cx="148" cy="194" r="3.6"/></g>
</g>
<text class="s" x="0.7" y="219">281.91, optimal, 281.92</text>
</g>

<g id="panel22" transform="translate(799.7,967.3)">
<text class="t" x="74.5" y="-30.5">N:45, E:19, CP:6, ID:22</text>
<g id="p22-edges" class="e">
<path d="M74 0L37 24.25"/><path d="M74 0L0 72.75"/><path d="M74 0L111 24.25"/><path d="M74 0L148 72.75"/><path d="M37 24.25L0 72.75"/><path d="M111 24.25L148 72.75"/><path d="M0 72.75L74 145.5"/><path d="M0 72.75L37 169.75"/><path d="M0 72.75L37 194"/><path d="M148 72.75L37 169.75"/><path d="M148 72.75L111 194"/><path d="M74 145.5L37 194"/><path d="M74 145.5L111 194"/><path d="M37 169.75L37 194"/>
<path d="M74 0L37 48.5"/><path d="M37 48.5L37 72.75"/><path d="M37 72.75L74 97"/><path d="M74 97L111 194"/><path d="M37 24.25L74 145.5"/>
</g>
<g id="p22-nodes" class="n">
<g id="p22-0-0"><circle cx="0" cy="0" r="3.6"/></g><g id="p22-1-0"><circle cx="37" cy="0" r="3.6"/></g><g id="p22-2-0"><circle cx="74" cy="0" r="3.6"/></g><g id="p22-3-0"><circle cx="111" cy="0" r="3.6"/></g><g id="p22-4-0"><circle cx="148" cy="0" r="3.6"/></g>
<g id="p22-0-1"><circle cx="0" cy="24.25" r="3.6"/></g><g id="p22-1-1"><circle cx="37" cy="24.25" r="3.6"/></g><g id="p22-2-1"><circle cx="74" cy="24.25" r="3.6"/></g><g id="p22-3-1"><circle cx="111" cy="24.25" r="3.6"/></g><g id="p22-4-1"><circle cx="148" cy="24.25" r="3.6"/></g>
<g id="p22-0-2"><circle cx="0" cy="48.5" r="3.6"/></g><g id="p22-1-2"><circle cx="37" cy="48.5" r="3.6"/></g><g id="p22-2-2"><circle cx="74" cy="48.5" r="3.6"/></g><g id="p22-3-2"><circle cx="111" cy="48.5" r="3.6"/></g><g id="p22-4-2"><circle cx="148" cy="48.5" r="3.6"/></g>
<g id="p22-0-3"><circle cx="0" cy="72.75" r="3.6"/></g><g id="p22-1-3"><circle cx="37" cy="72.75" r="3.6"/></g><g id="p22-2-3"><circle cx="74" cy="72.75" r="3.6"/></g><g id="p22-3-3"><circle cx="111" cy="72.75" r="3.6"/></g><g id="p22-4-3"><circle cx="148" cy="72.75" r="3.6"/></g>
<g id="p22-0-4"><circle cx="0" cy="97" r="3.6"/></g><g id="p22-1-4"><circle cx="37" cy="97" r="3.6"/></g><g id="p22-2-4"><circle cx="74" cy="97" r="3.6"/></g><g id="p22-3-4"><circle cx="111" cy="97" r="3.6"/></g><g id="p22-4-4"><circle cx="148" cy="97" r="3.6"/></g>
<g id="p22-0-5"><circle cx="0" cy="121.25" r="3.6"/></g><g id="p22-1-5"><circle cx="37" cy="121.25" r="3.6"/></g><g id="p22-2-5"><circle cx="74" cy="121.25" r="3.6"/></g><g id="p22-3-5"><circle cx="111" cy="121.25" r="3.6"/></g><g id="p22-4-5"><circle cx="148" cy="121.25" r="3.6"/></g>
<g id="p22-0-6"><circle cx="0" cy="145.5" r="3.6"/></g><g id="p22-1-6"><circle cx="37" cy="145.5" r="3.6"/></g><g id="p22-2-6"><circle cx="74" cy="145.5" r="3.6"/></g><g id="p22-3-6"><circle cx="111" cy="145.5" r="3.6"/></g><g id="p22-4-6"><circle cx="148" cy="145.5" r="3.6"/></g>
<g id="p22-0-7"><circle cx="0" cy="169.75" r="3.6"/></g><g id="p22-1-7"><circle cx="37" cy="169.75" r="3.6"/></g><g id="p22-2-7"><circle cx="74" cy="169.75" r="3.6"/></g><g id="p22-3-7"><circle cx="111" cy="169.75" r="3.6"/></g><g id="p22-4-7"><circle cx="148" cy="169.75" r="3.6"/></g>
<g id="p22-0-8"><circle cx="0" cy="194" r="3.6"/></g><g id="p22-1-8"><circle cx="37" cy="194" r="3.6"/></g><g id="p22-2-8"><circle cx="74" cy="194" r="3.6"/></g><g id="p22-3-8"><circle cx="111" cy="194" r="3.6"/></g><g id="p22-4-8"><circle cx="148" cy="194" r="3.6"/></g>
</g>
<text class="s" x="0.7" y="219">289.61, optimal, 289.62</text>
</g>

<g id="panel23" transform="translate(996.3,967.3)">
<text class="t" x="74.5" y="-30.5">N:45, E:18, CP:4, ID:23</text>
<g id="p23-edges" class="e">
<path d="M74 0L37 24.25"/><path d="M74 0L0 72.75"/><path d="M74 0L111 24.25"/><path d="M74 0L148 72.75"/><path d="M37 24.25L0 72.75"/><path d="M111 24.25L148 72.75"/><path d="M0 72.75L74 145.5"/><path d="M0 72.75L37 169.75"/><path d="M0 72.75L37 194"/><path d="M148 72.75L37 169.75"/><path d="M148 72.75L111 194"/><path d="M74 145.5L37 194"/><path d="M74 145.5L111 194"/><path d="M37 169.75L37 194"/>
<path d="M74 0L74 24.25"/><path d="M74 0L111 48.5"/><path d="M74 24.25L111 194"/><path d="M111 48.5L74 145.5"/>
</g>
<g id="p23-nodes" class="n">
<g id="p23-0-0"><circle cx="0" cy="0" r="3.6"/></g><g id="p23-1-0"><circle cx="37" cy="0" r="3.6"/></g><g id="p23-2-0"><circle cx="74" cy="0" r="3.6"/></g><g id="p23-3-0"><circle cx="111" cy="0" r="3.6"/></g><g id="p23-4-0"><circle cx="148" cy="0" r="3.6"/></g>
<g id="p23-0-1"><circle cx="0" cy="24.25" r="3.6"/></g><g id="p23-1-1"><circle cx="37" cy="24.25" r="3.6"/></g><g id="p23-2-1"><circle cx="74" cy="24.25" r="3.6"/></g><g id="p23-3-1"><circle cx="111" cy="24.25" r="3.6"/></g><g id="p23-4-1"><circle cx="148" cy="24.25" r="3.6"/></g>
<g id="p23-0-2"><circle cx="0" cy="48.5" r="3.6"/></g><g id="p23-1-2"><circle cx="37" cy="48.5" r="3.6"/></g><g id="p23-2-2"><circle cx="74" cy="48.5" r="3.6"/></g><g id="p23-3-2"><circle cx="111" cy="48.5" r="3.6"/></g><g id="p23-4-2"><circle cx="148" cy="48.5" r="3.6"/></g>
<g id="p23-0-3"><circle cx="0" cy="72.75" r="3.6"/></g><g id="p23-1-3"><circle cx="37" cy="72.75" r="3.6"/></g><g id="p23-2-3"><circle cx="74" cy="72.75" r="3.6"/></g><g id="p23-3-3"><circle cx="111" cy="72.75" r="3.6"/></g><g id="p23-4-3"><circle cx="148" cy="72.75" r="3.6"/></g>
<g id="p23-0-4"><circle cx="0" cy="97" r="3.6"/></g><g id="p23-1-4"><circle cx="37" cy="97" r="3.6"/></g><g id="p23-2-4"><circle cx="74" cy="97" r="3.6"/></g><g id="p23-3-4"><circle cx="111" cy="97" r="3.6"/></g><g id="p23-4-4"><circle cx="148" cy="97" r="3.6"/></g>
<g id="p23-0-5"><circle cx="0" cy="121.25" r="3.6"/></g><g id="p23-1-5"><circle cx="37" cy="121.25" r="3.6"/></g><g id="p23-2-5"><circle cx="74" cy="121.25" r="3.6"/></g><g id="p23-3-5"><circle cx="111" cy="121.25" r="3.6"/></g><g id="p23-4-5"><circle cx="148" cy="121.25" r="3.6"/></g>
<g id="p23-0-6"><circle cx="0" cy="145.5" r="3.6"/></g><g id="p23-1-6"><circle cx="37" cy="145.5" r="3.6"/></g><g id="p23-2-6"><circle cx="74" cy="145.5" r="3.6"/></g><g id="p23-3-6"><circle cx="111" cy="145.5" r="3.6"/></g><g id="p23-4-6"><circle cx="148" cy="145.5" r="3.6"/></g>
<g id="p23-0-7"><circle cx="0" cy="169.75" r="3.6"/></g><g id="p23-1-7"><circle cx="37" cy="169.75" r="3.6"/></g><g id="p23-2-7"><circle cx="74" cy="169.75" r="3.6"/></g><g id="p23-3-7"><circle cx="111" cy="169.75" r="3.6"/></g><g id="p23-4-7"><circle cx="148" cy="169.75" r="3.6"/></g>
<g id="p23-0-8"><circle cx="0" cy="194" r="3.6"/></g><g id="p23-1-8"><circle cx="37" cy="194" r="3.6"/></g><g id="p23-2-8"><circle cx="74" cy="194" r="3.6"/></g><g id="p23-3-8"><circle cx="111" cy="194" r="3.6"/></g><g id="p23-4-8"><circle cx="148" cy="194" r="3.6"/></g>
</g>
<text class="s" x="0.7" y="219">291.9, optimal, 291.91</text>
</g>
</svg>
